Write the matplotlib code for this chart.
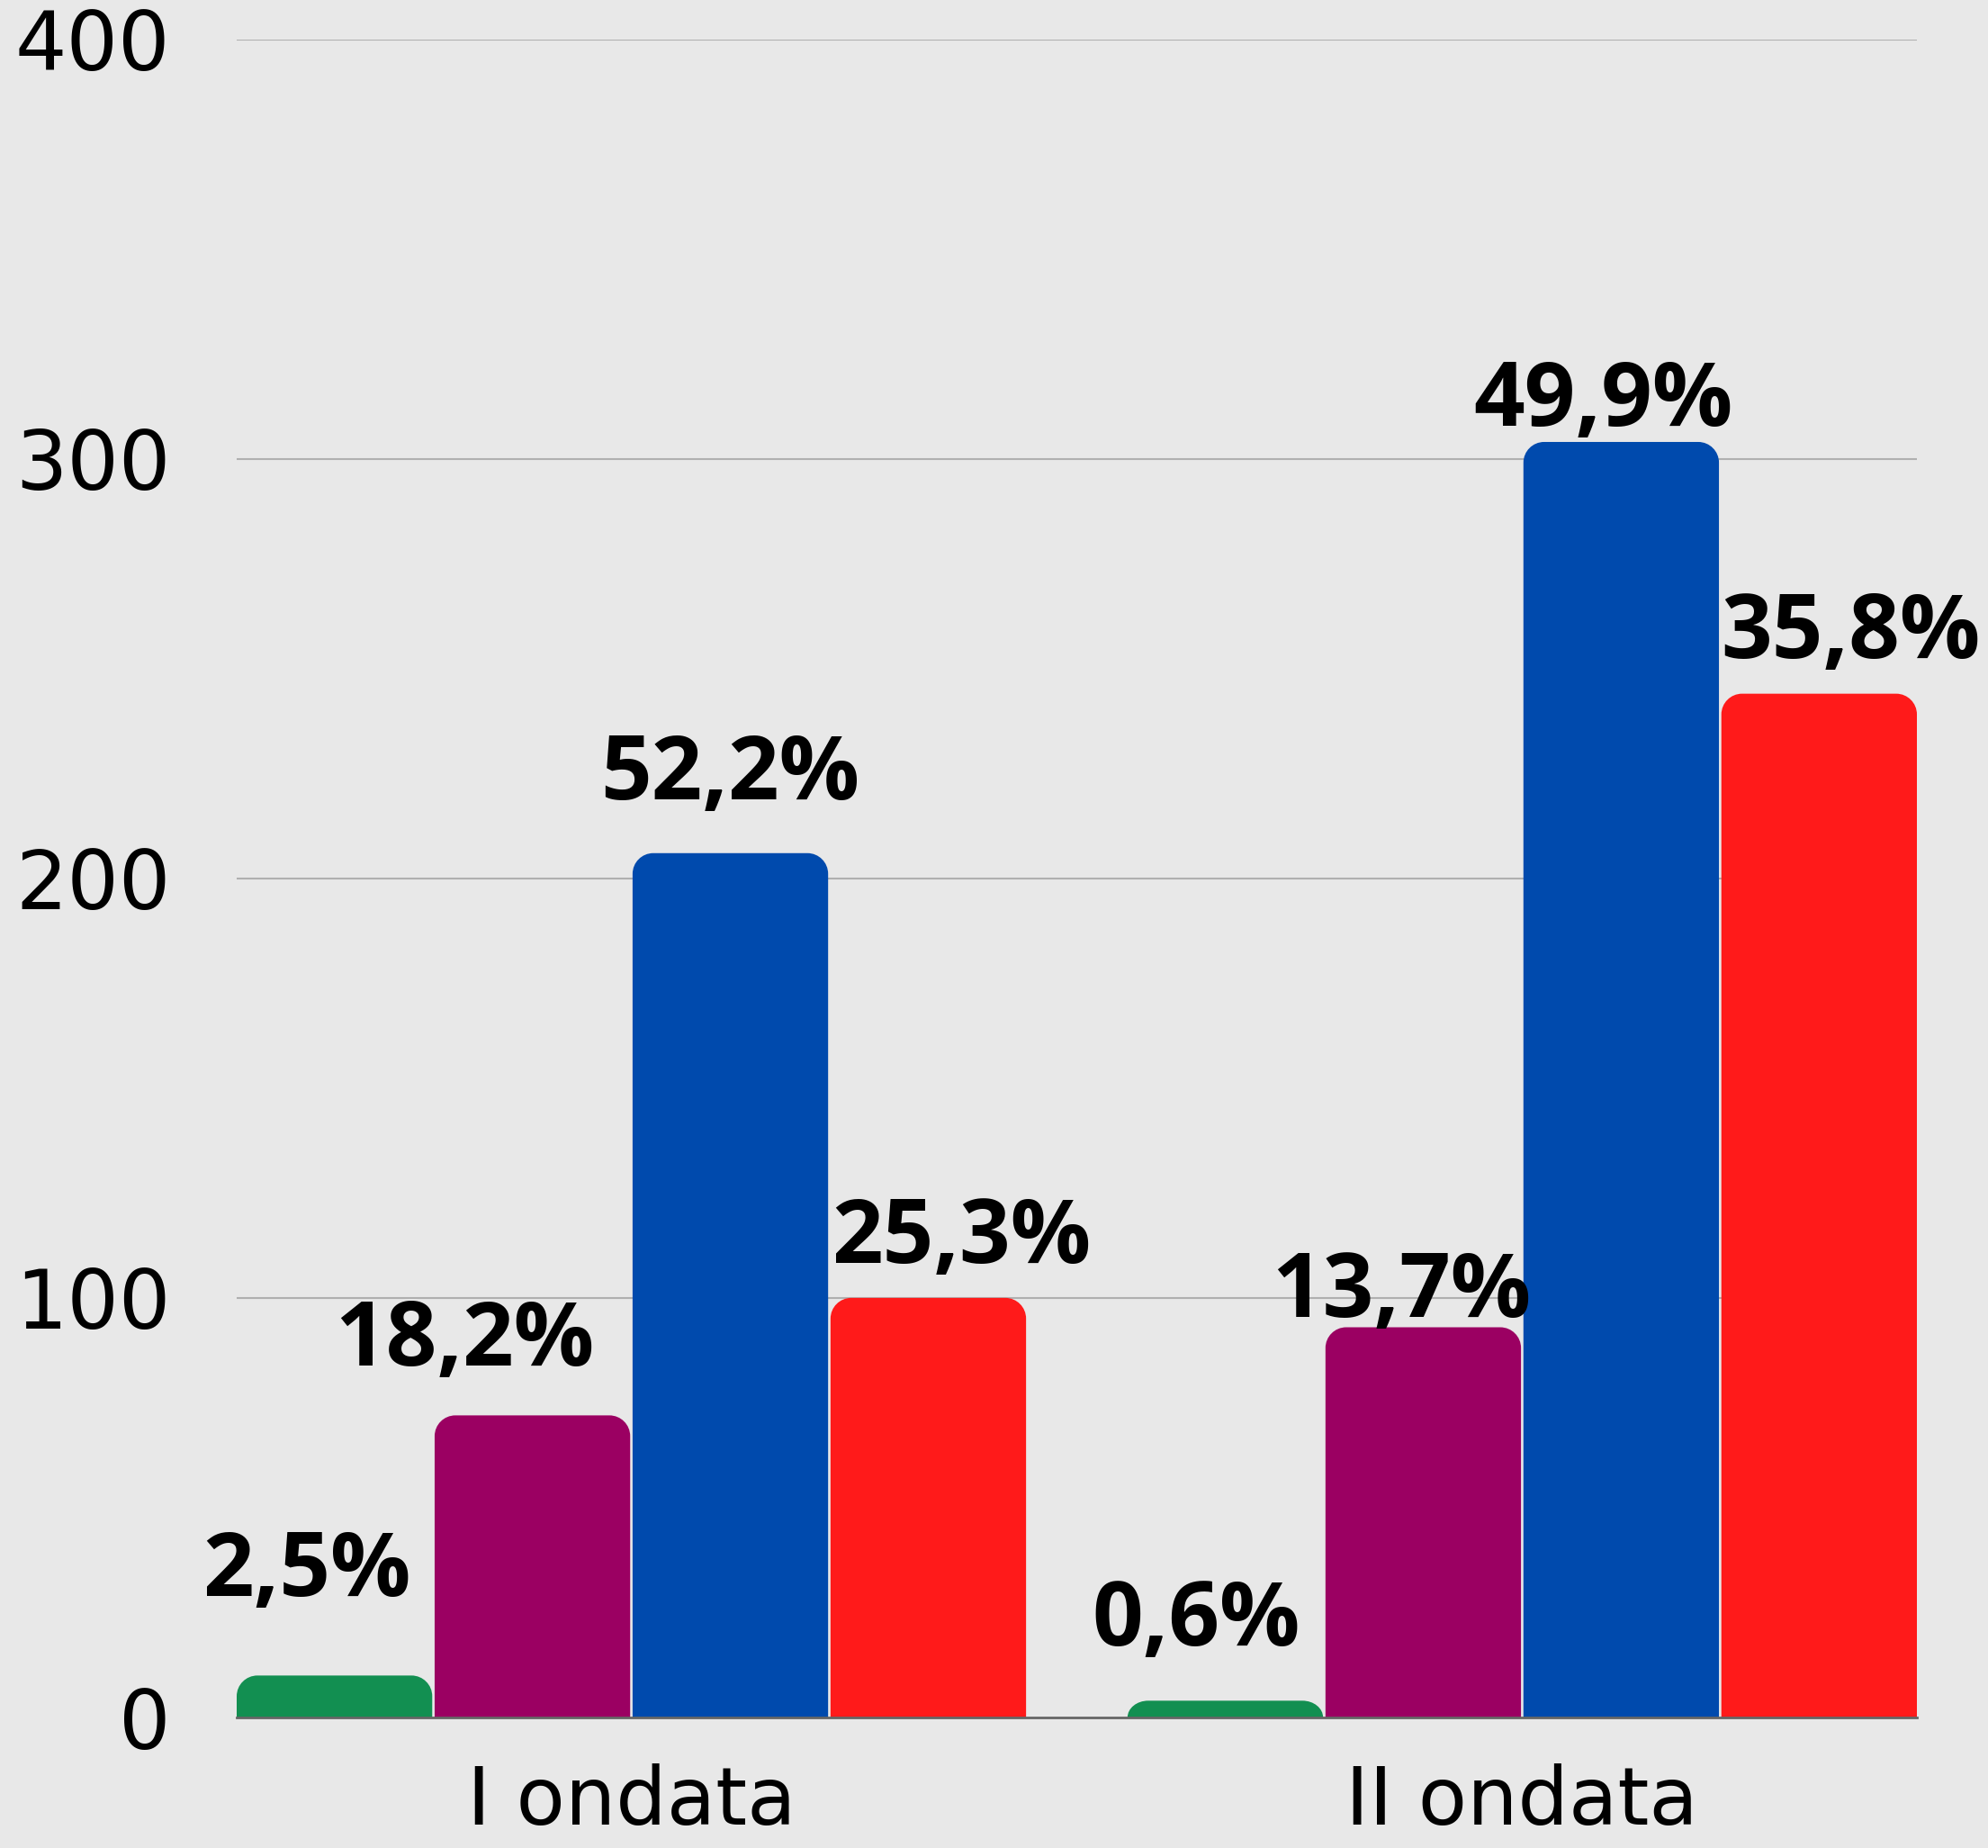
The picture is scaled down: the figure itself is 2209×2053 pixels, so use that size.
import matplotlib
matplotlib.use("Agg")
import matplotlib.pyplot as plt
from matplotlib.path import Path
from matplotlib.patches import PathPatch
import numpy as np

# ---- data ----
categories = ["I ondata", "II ondata"]
series_names = ["verde", "viola", "blu", "rosso"]
values_green = [10, 4]
values_purple = [72, 93]
values_blue = [206, 304]
values_red = [100, 244]
labels_green = ["2,5%", "0,6%"]
labels_purple = ["18,2%", "13,7%"]
labels_blue = ["52,2%", "49,9%"]
labels_red = ["25,3%", "35,8%"]
y_ticks = [0, 100, 200, 300, 400]

# ---- styles ----
colors = ["#128F51", "#9B0062", "#004AAD", "#FF1A1A"]
bg = "#E8E8E8"
# label offsets in pixels (dx, dy of baseline above bar top), per series per category
label_offsets = [
    [(-31, 88), (-32, 61)],
    [(-75, 55), (-24, 12)],
    [(0, 60), (-20, 18)],
    [(37, 39), (35, 40)],
]

W, H, DPI = 2209, 2053, 100
fig = plt.figure(figsize=(W / DPI, H / DPI), dpi=DPI, facecolor=bg)
left, right = 263 / W, 2130 / W
bottom, top = (H - 1908) / H, (H - 43.5) / H
ax = fig.add_axes([left, bottom, right - left, top - bottom], facecolor=bg)

pitch = 0.2222
bw = 0.2195
x = np.arange(len(categories))
xlim = (-2 * pitch + (pitch - bw) / 2, 1 + 2 * pitch - (pitch - bw) / 2)
ax.set_xlim(*xlim)
ax.set_ylim(0, 400)

ax_w_px = (right - left) * W
ax_h_px = (top - bottom) * H
px_per_x = ax_w_px / (xlim[1] - xlim[0])
px_per_y = ax_h_px / 400.0
radius_px = 23

series = [values_green, values_purple, values_blue, values_red]
labels = [labels_green, labels_purple, labels_blue, labels_red]
k = 0.5523

for i, (vals, col, labs) in enumerate(zip(series, colors, labels)):
    offs = (i - 1.5) * pitch
    bars = ax.bar(x + offs, vals, width=bw, color=col, zorder=2)
    for j, rect in enumerate(bars.patches):
        x0 = rect.get_x()
        y0 = rect.get_y()
        w = rect.get_width()
        h = rect.get_height()
        x1 = x0 + w
        y1 = y0 + h
        rx = min(radius_px / px_per_x, w / 2)
        ry = min(radius_px / px_per_y, h)
        verts = [
            (x0, y0),
            (x0, y1 - ry),
            (x0, y1 - ry + k * ry), (x0 + rx - k * rx, y1), (x0 + rx, y1),
            (x1 - rx, y1),
            (x1 - rx + k * rx, y1), (x1, y1 - ry + k * ry), (x1, y1 - ry),
            (x1, y0),
            (x0, y0),
        ]
        codes = [Path.MOVETO, Path.LINETO,
                 Path.CURVE4, Path.CURVE4, Path.CURVE4,
                 Path.LINETO,
                 Path.CURVE4, Path.CURVE4, Path.CURVE4,
                 Path.LINETO, Path.CLOSEPOLY]
        pp = PathPatch(Path(verts, codes), facecolor=col, edgecolor="none", zorder=2)
        ax.add_patch(pp)
        rect.set_visible(False)
        dx, dy = label_offsets[i][j]
        ax.annotate(labs[j], xy=(x0 + w / 2, y1), xytext=(dx, dy),
                    textcoords="offset pixels", ha="center", va="baseline",
                    fontsize=71.5, fontweight="bold", family="Open Sans",
                    color="black", zorder=4, annotation_clip=False)

# grid and baseline
for yt in y_ticks[1:]:
    ax.axhline(yt, color="#B0B0B0", lw=1.5, zorder=1)
ax.axhline(0, color="#666666", lw=2.0, zorder=3, clip_on=False)

for s in ax.spines.values():
    s.set_visible(False)

ax.set_yticks(y_ticks)
ax.set_yticklabels([str(v) for v in y_ticks], family="DejaVu Sans", fontsize=65)
ax.set_xticks(x)
ax.set_xticklabels(categories, family="DejaVu Sans", fontsize=64)
ax.tick_params(axis="y", length=0, pad=53)
ax.tick_params(axis="x", length=0, pad=37)

fig.savefig("out.png", dpi=DPI, facecolor=bg)
